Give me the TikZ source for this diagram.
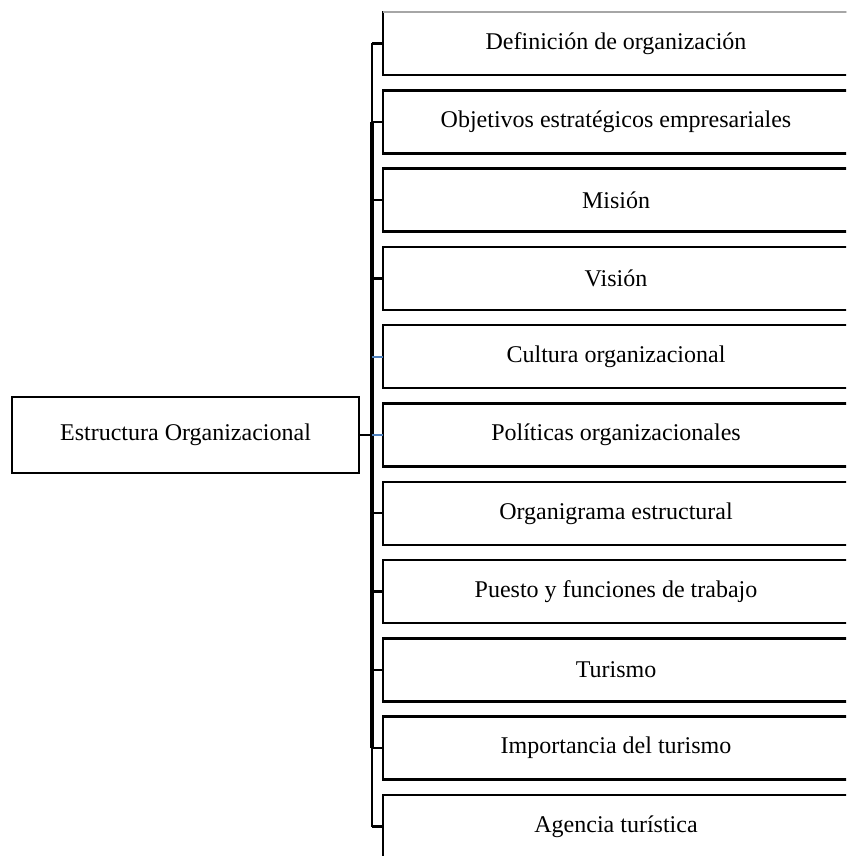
\documentclass[tikz,border=0pt]{standalone}
\usepackage{fontspec}
\setmainfont{Liberation Serif}
\definecolor{tickblue}{HTML}{4F81BD}
\tikzset{
  rootbox/.style={draw, line width=2.5pt, minimum width=347, minimum height=76, inner sep=0, outer sep=0, font=\fontsize{24}{28}\selectfont},
  itembox/.style={draw, line width=2.5pt, minimum width=466, minimum height=63, inner sep=0, outer sep=0, font=\fontsize{24}{28}\selectfont},
  link/.style={line width=2.3pt},
  buswide/.style={line width=3.8pt},
  bluelink/.style={tickblue, line width=1.8pt}
}
\begin{document}
\begin{tikzpicture}[x=1pt, y=-1pt]
  \useasboundingbox (0,0) rectangle (846,856);
  \clip (0,0) rectangle (846,856);
  \coordinate (bus) at (372,0);

  \node[rootbox] (root) at (185.5,435) {Estructura Organizacional};

  \foreach \txt [count=\i] in {Definición de organización, Objetivos estratégicos empresariales,
      Misión, Visión, Cultura organizacional, Políticas organizacionales, Organigrama estructural,
      Puesto y funciones de trabajo, Turismo, Importancia del turismo, Agencia turística}
    \node[itembox] (b\i) at (616,{43.5+(\i-1)*78.3}) {\txt};

  % top edge of the first box is grey
  \draw[gray!70, line width=1.6pt] (b1.north west) -- (b1.north east);

  % bus and ticks
  \draw[link] (b1.west -| bus) -- (b11.west -| bus);
  \draw[buswide] (b2.west -| bus) -- (b10.west -| bus);
  \draw[link] (root.east) -- (root.east -| bus);
  \foreach \i in {1,2,3,4,7,8,9,10,11}
    \draw[link] (b\i.west -| bus) -- (b\i.west);
  \foreach \i in {5,6}
    \draw[bluelink] (b\i.west -| bus) -- (b\i.west);
\end{tikzpicture}
\end{document}
